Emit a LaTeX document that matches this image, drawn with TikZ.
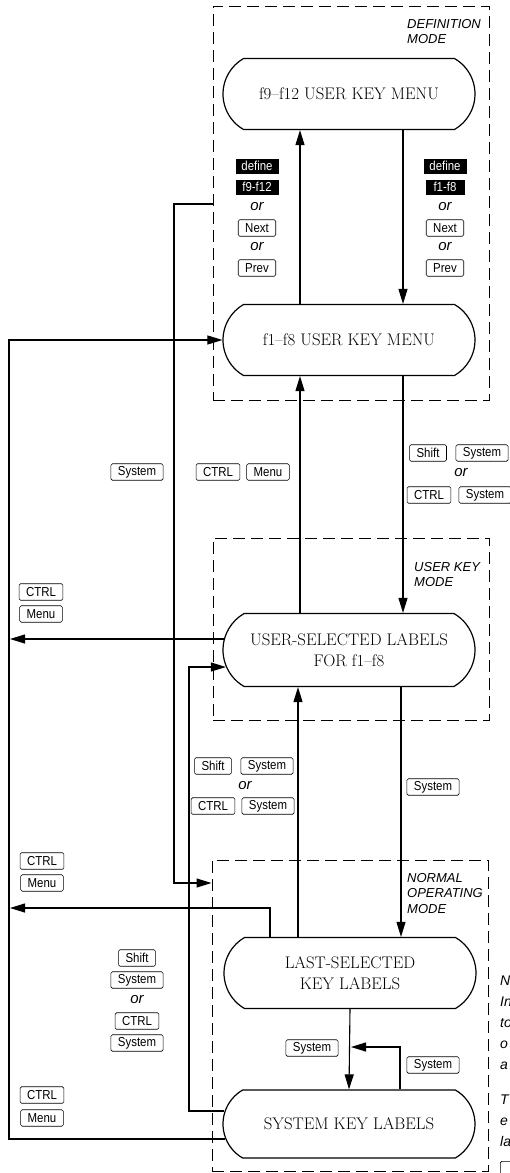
\documentclass[tikz,border=0pt]{standalone}
\usepackage{fontspec}
\newfontfamily\keyfont[FakeStretch=0.88]{Liberation Sans}
\newfontfamily\labelfont{Liberation Sans}
\usetikzlibrary{shapes.misc,arrows.meta,calc}
\begin{document}
\begin{tikzpicture}[x=1pt,y=-1pt,
  conn/.style={line width=1.1pt},
  arr/.style={-{Triangle[length=15pt,width=9pt]}},
  modebox/.style={draw, dash pattern=on 12pt off 6pt, line width=1pt, inner sep=0pt},
  state/.style={draw, line width=1.2pt, rounded rectangle, rounded rectangle arc length=120,
    minimum width=252pt, minimum height=71pt, inner sep=0pt, fill=white, align=center,
    font=\fontsize{16.8}{20.5}\selectfont},
  key/.style={draw, line width=0.6pt, rounded corners=1.5pt, inner xsep=7pt, inner ysep=0pt,
    minimum height=16.5pt, font=\keyfont\fontsize{13}{13}\selectfont},
  blk/.style={fill=black, text=white, inner xsep=5.5pt, inner ysep=0pt, minimum height=15pt,
    minimum width=43pt, font=\keyfont\fontsize{13}{13}\selectfont},
  ortxt/.style={inner sep=0pt, font=\labelfont\itshape\fontsize{15}{15}\selectfont},
  modelbl/.style={anchor=north west, align=left, inner sep=0pt,
    font=\labelfont\itshape\fontsize{13}{15.5}\selectfont}]
\useasboundingbox (0,0) rectangle (509,1173);

% mode boxes
\node[modebox, minimum width=276pt, minimum height=394pt] (defbox) at (351,203) {};
\node[modebox, minimum width=276pt, minimum height=182pt] (ukbox) at (351,629) {};
\node[modebox, minimum width=276pt, minimum height=311pt] (nmbox) at (350,1015.5) {};

\node[modelbl] (defl) at (407,19) {DEFINITION\\MODE};
\node[modelbl] (ukl) at (414,562) {USER KEY\\MODE};
\node[modelbl] (nml) at (407,873) {NORMAL\\OPERATING\\MODE};

% states
\node[state] (f912) at (349,94) {f9–f12 USER KEY MENU};
\node[state] (f18) at (349,340) {f1–f8 USER KEY MENU};
\node[state, minimum height=73pt] (usl) at (349,650) {USER-SELECTED LABELS\\FOR f1–f8};
\node[state] (lsk) at (350,973) {LAST-SELECTED\\KEY LABELS};
\node[state, minimum height=68pt] (skl) at (349,1124) {SYSTEM KEY LABELS};

\coordinate (lx) at (9,0);

% definition mode arrows
\draw[conn,arr] ([xshift=-49pt]f18.north) -- ([xshift=-49pt]f912.south);
\draw[conn,arr] ([xshift=54pt]f912.south) -- ([xshift=54pt]f18.north);
% between f1-f8 and user-selected
\draw[conn,arr] ([xshift=54pt]f18.south) -- ([xshift=54pt]usl.north);
\draw[conn,arr] ([xshift=-49pt]usl.north) -- ([xshift=-49pt]f18.south);
% between user-selected and last-selected
\draw[conn,arr] ([xshift=52pt]usl.south) -- ([xshift=51pt]lsk.north);
\draw[conn,arr] ([xshift=-52pt]lsk.north) -- ([xshift=-51pt]usl.south);
% last-selected and system
\draw[conn,arr] (lsk.south) -- (skl.north);
\draw[conn,arr] ([xshift=51pt]skl.north) |- ([xshift=1pt]lsk.south |- 0,1047);

% left routes
\draw[conn,arr] ($(skl.west)+(2.7,15)$) -| (lx |- f18.west) -- (f18.west);
\draw[conn,arr] ($(usl.west)+(1.5,-11)$) coordinate (u1) -- ([xshift=1pt]lx |- u1);
\draw[conn,arr] ([xshift=-80pt]lsk.north) |- ([xshift=1pt]lx |- 0,908);
\draw[conn,arr] (defbox.west |- 0,204) -| (174,883) -- (nmbox.west |- 0,883);
\draw[conn,arr] ($(skl.west)+(2,-13)$) -| (189,667) -- ($(usl.west)+(3.5,17)$);

% definition-mode key labels
\node[blk] (dl1) at (257,166) {define};
\node[blk] (dl2) at (257,187) {f9-f12};
\node[ortxt] (dl3) at (257,207) {or};
\node[key] (dl4) at (257,228) {Next};
\node[ortxt] (dl5) at (257,247) {or};
\node[key] (dl6) at (257,268) {Prev};

\node[blk] (dr1) at (445,166) {define};
\node[blk, minimum width=39pt] (dr2) at (445,187) {f1-f8};
\node[ortxt] (dr3) at (445,207) {or};
\node[key] (dr4) at (445,228) {Next};
\node[ortxt] (dr5) at (445,247) {or};
\node[key] (dr6) at (445,268) {Prev};

% between f1-f8 and user-selected
\node[key] (k1) at (137,472) {System};
\node[key] (k2) at (218,472) {CTRL};
\node[key] (k3) at (268,472) {Menu};
\node[key] (k4) at (428,453) {Shift};
\node[key] (k5) at (482,453) {System};
\node[ortxt] (k6) at (461,473) {or};
\node[key] (k7) at (429,495) {CTRL};
\node[key] (k8) at (485,495) {System};

\node[key] (k9) at (41,592) {CTRL};
\node[key] (k10) at (41,614) {Menu};

% between user-selected and last-selected
\node[key] (k11) at (213,766) {Shift};
\node[key] (k12) at (267,766) {System};
\node[ortxt] (k13) at (245,786) {or};
\node[key] (k14) at (213,806) {CTRL};
\node[key] (k15) at (268,806) {System};
\node[key] (k16) at (433,787) {System};

\node[key] (k17) at (42,861) {CTRL};
\node[key] (k18) at (42,883) {Menu};

\node[key] (k19) at (137,958) {Shift};
\node[key] (k20) at (137,980) {System};
\node[ortxt] (k21) at (137,1000) {or};
\node[key] (k22) at (137,1021) {CTRL};
\node[key] (k23) at (137,1043) {System};

\node[key] (k24) at (312,1048) {System};
\node[key] (k25) at (433,1065) {System};

\node[key] (k26) at (42,1095) {CTRL};
\node[key] (k27) at (42,1118) {Menu};

% cut-off note at the right edge
\node[anchor=north west, align=left, inner sep=0pt,
  font=\labelfont\itshape\fontsize{14}{21}\selectfont] (note) at (500,976)
  {N\\In\\to\\o\\a\\[14pt]T\\e\\la};
\node[key, anchor=north west] (notekey) at (500,1161) {\phantom{Menu}};
\end{tikzpicture}
\end{document}
